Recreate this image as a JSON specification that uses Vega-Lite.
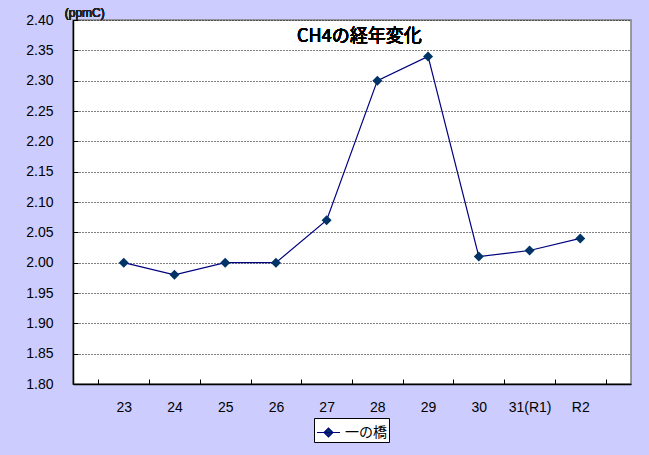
{
  "$schema": "https://vega.github.io/schema/vega-lite/v6.json",
  "autosize": {"type": "none"},
  "width": 558,
  "height": 364,
  "padding": {"left": 73, "top": 20, "right": 18, "bottom": 71},
  "background": "#ccccff",
  "config": {
    "view": {"fill": "white", "stroke": "#808080", "strokeWidth": 1.5},
    "font": "Liberation Sans",
    "axis": {"labelColor": "#000000", "labelFontSize": 14, "labelFont": "Liberation Sans"}
  },
  "data": {
    "values": [
      {"year": "23", "value": 2.00, "site": "一の橋"},
      {"year": "24", "value": 1.98, "site": "一の橋"},
      {"year": "25", "value": 2.00, "site": "一の橋"},
      {"year": "26", "value": 2.00, "site": "一の橋"},
      {"year": "27", "value": 2.07, "site": "一の橋"},
      {"year": "28", "value": 2.30, "site": "一の橋"},
      {"year": "29", "value": 2.34, "site": "一の橋"},
      {"year": "30", "value": 2.01, "site": "一の橋"},
      {"year": "31(R1)", "value": 2.02, "site": "一の橋"},
      {"year": "R2", "value": 2.04, "site": "一の橋"}
    ]
  },
  "encoding": {
    "x": {
      "field": "year", "type": "ordinal", "sort": null,
      "scale": {"paddingInner": 0, "paddingOuter": 0.5},
      "axis": {"title": null, "labelAngle": 0, "domainColor": "#000000", "domainWidth": 1.5, "tickColor": "#000000", "tickBand": "extent", "tickSize": -5, "labelPadding": 21, "grid": false}
    },
    "y": {
      "field": "value", "type": "quantitative",
      "scale": {"domain": [1.8, 2.4], "nice": false, "zero": false},
      "axis": {"title": null, "values": [1.8, 1.85, 1.9, 1.95, 2.0, 2.05, 2.1, 2.15, 2.2, 2.25, 2.3, 2.35, 2.4], "format": ".2f", "labelOverlap": false, "labelBound": false, "domainColor": "#000000", "domainWidth": 1.5, "tickColor": "#000000", "tickSize": -5, "labelPadding": 25, "grid": true, "gridColor": "#000000", "gridDash": [1, 2], "gridWidth": 1}
    }
  },
  "layer": [
    {
      "mark": {"type": "line", "color": "#000080", "strokeWidth": 1.2}
    },
    {
      "mark": {"type": "point", "shape": "diamond", "size": 100, "filled": true, "opacity": 1},
      "encoding": {
        "color": {
          "field": "site", "type": "nominal",
          "scale": {"range": ["#003366"]},
          "legend": {"title": null, "orient": "none", "legendX": 241, "legendY": 398, "fillColor": "white", "strokeColor": "#000000", "padding": 2, "labelFontSize": 14, "labelFont": "Noto Sans CJK JP", "labelColor": "#000000", "labelOffset": 4, "symbolType": "M-1,0L1,0M-0.38,0L0,-0.38L0.38,0L0,0.38Z", "symbolSize": 530, "symbolOpacity": 1,
            "encode": {"symbols": {"update": {"stroke": {"value": "#000080"}, "strokeWidth": {"value": 1.2}, "fill": {"value": "#003366"}, "opacity": {"value": 1}}}}}
        }
      }
    },
    {
      "mark": {"type": "text", "fontSize": 18, "fontWeight": 400, "font": "Noto Sans CJK JP", "color": "#000000", "baseline": "middle", "dx": -18, "dy": -1},
      "encoding": {
        "x": {"datum": "28", "type": "ordinal"},
        "y": {"datum": 2.37, "type": "quantitative"},
        "text": {"value": "CH4の経年変化"}
      }
    },
    {
      "mark": {"type": "text", "fontSize": 12, "font": "Liberation Sans", "color": "#222222", "align": "left", "baseline": "bottom", "dx": -59, "dy": 0},
      "encoding": {
        "x": {"datum": "23", "type": "ordinal"},
        "y": {"datum": 2.4, "type": "quantitative"},
        "text": {"value": "(ppmC)"}
      }
    }
  ]
}
